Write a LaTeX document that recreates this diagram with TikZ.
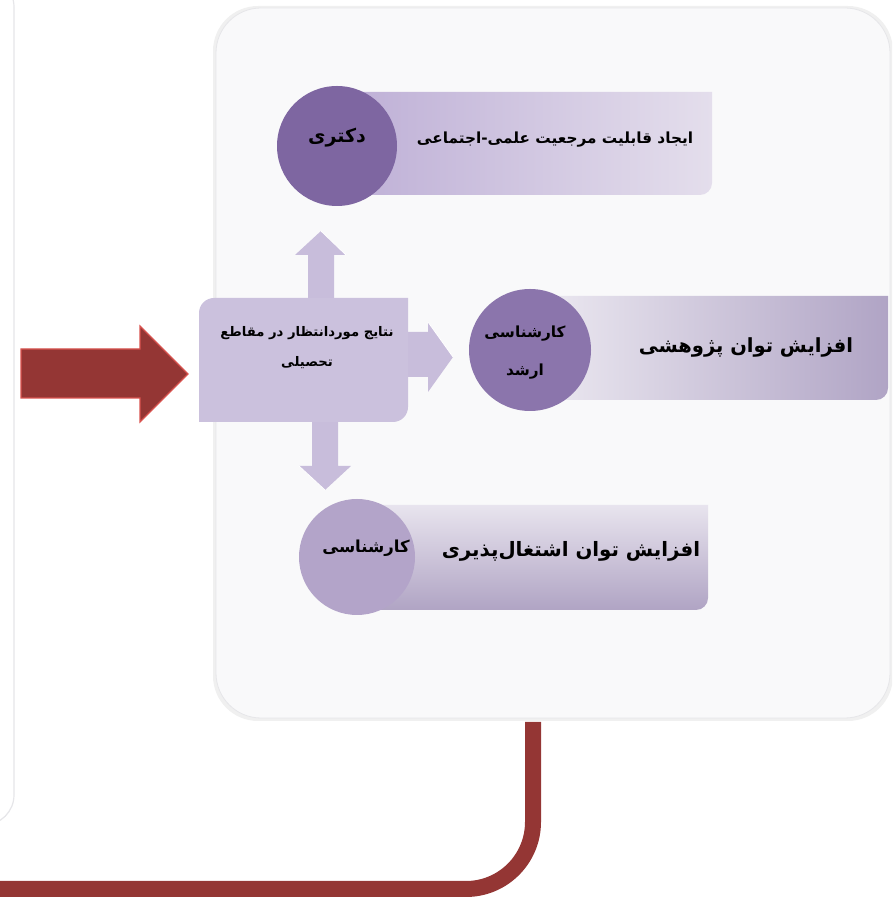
\documentclass[tikz,border=0pt]{standalone}
\usepackage{fontspec}
\TeXXeTstate=1
\newfontfamily\fa[Script=Arabic]{DejaVu Sans}
\definecolor{panelfill}{HTML}{F9F9FA}
\definecolor{paneledge}{HTML}{E6E6E9}
\definecolor{darkred}{HTML}{943634}
\definecolor{rededge}{HTML}{D9534F}
\definecolor{lav}{HTML}{CBC1DD}
\definecolor{arrowlav}{HTML}{C8BDDB}
\definecolor{circA}{HTML}{7E66A1}
\definecolor{circB}{HTML}{8B75AC}
\definecolor{circC}{HTML}{B3A4C9}
\definecolor{barAl}{HTML}{BCADD5}
\definecolor{barAr}{HTML}{E4DEEC}
\definecolor{barBl}{HTML}{ECE9F1}
\definecolor{barBr}{HTML}{B0A4C5}
\definecolor{barCt}{HTML}{E8E4EE}
\definecolor{barCb}{HTML}{B0A4C4}
\tikzset{
  ptext/.style={font=\fa\bfseries, text=black, align=center, inner sep=0pt},
  lavarrow/.style={fill=arrowlav, draw=none},
}
\begin{document}
\begin{tikzpicture}[x=1pt,y=1pt]
\useasboundingbox (0,0) rectangle (892,897);
\clip (0,0) rectangle (892,897);
% left panel
\draw[fill=white, draw=paneledge, line width=1.2, rounded corners=30] (-40,72) rectangle (14,920);
% big panel with faint shadow
\fill[black!6, rounded corners=45] (213,176) rectangle (893,891);
\draw[fill=panelfill, draw=paneledge, line width=0.8, rounded corners=45] (216,179) rectangle (890,889);
% dark red connector
\coordinate (lineTop) at (533,175);
\coordinate (lineCorner) at (533,8);
\coordinate (lineEnd) at (-10,8);
\draw[darkred, line width=16, rounded corners=67] (lineTop) -- (lineCorner) -- (lineEnd);
% red arrow
\draw[fill=darkred, draw=rededge, line width=1.2] (21,548) -- (140,548) -- (140,571) -- (188,523) -- (140,475) -- (140,499) -- (21,499) -- cycle;
% small lavender arrows
\fill[lavarrow] (308,599) -- (308,642) -- (295,642) -- (321,666) -- (346,642) -- (334,642) -- (334,599) -- cycle;
\fill[lavarrow] (312,476) -- (312,431) -- (299,431) -- (325,407) -- (351,431) -- (338,431) -- (338,476) -- cycle;
\fill[lavarrow] (407,565) -- (428,565) -- (428,575) -- (453,540) -- (428,505) -- (428,520) -- (407,520) -- cycle;
\draw[white, line width=0.8] (321,666) -- (346,642);
\draw[white, line width=0.8] (428,575) -- (453,540);
\draw[white, line width=0.8] (299,431) -- (325,407);
% central box: rounded top-left and bottom-right
\fill[lav] (199,475) -- (199,584) arc[start angle=180, end angle=90, radius=15] -- (408,599) -- (408,490) arc[start angle=0, end angle=-90, radius=15] -- cycle;
\node[ptext, font=\fa\bfseries\fontsize{13.2}{30}\selectfont] (center) at (307,549) {\beginR نتایج موردانتظار در مقاطع\endR\\\beginR تحصیلی\endR};
% top bar
\shade[left color=barAl, right color=barAr] (325,805) -- (712,805) -- (712,714) arc[start angle=0, end angle=-90, radius=12] -- (325,702) -- cycle;
\fill[circA] (337,751) circle[radius=60];
\node[ptext, font=\fa\bfseries\fontsize{19}{22}\selectfont] (doc) at (337,759) {\beginR دکتری\endR};
\node[ptext, font=\fa\bfseries\fontsize{15.3}{18}\selectfont] (docText) at (555,757) {\beginR ایجاد قابلیت مرجعیت علمی-اجتماعی\endR};
% middle bar
\shade[left color=barBl, right color=barBr] (540,601) -- (888,601) -- (888,509) arc[start angle=0, end angle=-90, radius=12] -- (540,497) -- cycle;
\fill[circB] (530,547) circle[radius=61];
\node[ptext, font=\fa\bfseries\fontsize{15.3}{38}\selectfont] (ms) at (525,544) {\beginR کارشناسی\endR\\\beginR ارشد\endR};
\node[ptext, font=\fa\bfseries\fontsize{19.5}{22}\selectfont] (msText) at (746,550) {\beginR افزایش توان پژوهشی\endR};
% bottom bar
\shade[shading angle=-30, top color=barCt, bottom color=barCb] (380,392) -- (708,392) -- (708,299) arc[start angle=0, end angle=-90, radius=12] -- (380,287) -- cycle;
\fill[circC] (357,340) circle[radius=58];
\node[ptext, font=\fa\bfseries\fontsize{16.5}{20}\selectfont] (bs) at (366,349) {\beginR کارشناسی\endR};
\node[ptext, font=\fa\bfseries\fontsize{19.8}{22}\selectfont] (bsText) at (571,346) {\beginR افزایش توان اشتغال‌پذیری\endR};
\end{tikzpicture}
\end{document}
